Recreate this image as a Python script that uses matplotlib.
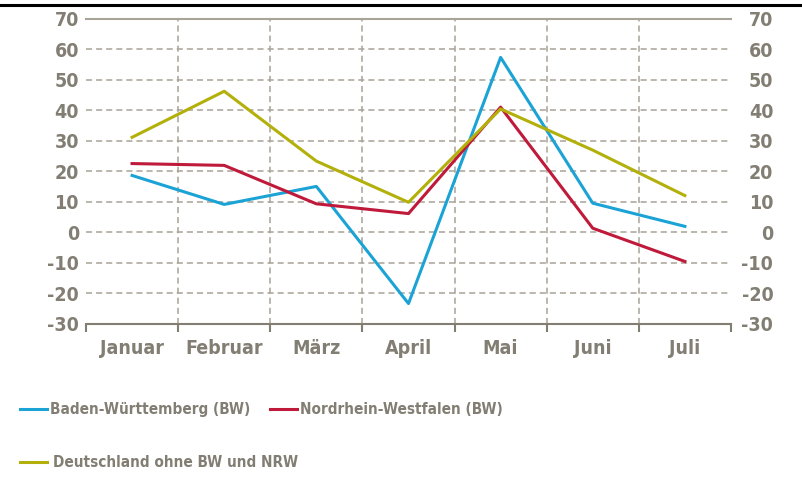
import matplotlib.pyplot as plt
from matplotlib.lines import Line2D
import numpy as np

months = ['Januar', 'Februar', 'März', 'April', 'Mai', 'Juni', 'Juli']
bw = [18.7, 9.2, 15.1, -23.3, 57.4, 9.6, 2.0]
nrw = [22.6, 22.0, 9.4, 6.2, 41.1, 1.4, -9.5]
de_rest = [31.2, 46.3, 23.4, 9.9, 40.5, 27.0, 12.1]
yticks = [-30, -20, -10, 0, 10, 20, 30, 40, 50, 60, 70]

grey = '#837e73'
gridc = '#a8a398'
plt.rcParams['font.family'] = ['DejaVu Sans']
plt.rcParams['font.stretch'] = 'condensed'
plt.rcParams['font.weight'] = 'bold'
plt.rcParams['axes.unicode_minus'] = False

fig = plt.figure(figsize=(8.03, 4.78), dpi=100)
ax = fig.add_axes([0.1071, 0.3222, 0.8032, 0.6381])

x = np.arange(len(months))
ax.plot(x, bw, color='#1ba3d6', lw=2.2, label='Baden-Württemberg (BW)')
ax.plot(x, nrw, color='#c01a3b', lw=2.2, label='Nordrhein-Westfalen (BW)')
ax.plot(x, de_rest, color='#b3b00b', lw=2.2, label='Deutschland ohne BW und NRW')

ax.set_xlim(-0.5, 6.5)
ax.set_ylim(-30, 70)
ax.set_yticks(yticks)
ax.set_xticks(x)
ax.set_xticklabels(months)
ax.set_xticks(np.arange(-0.5, 7, 1), minor=True)

for v in yticks[1:-1]:
    ax.axhline(v, color=gridc, lw=1.1, ls=(0, (4, 2.6)), zorder=0)
for b in np.arange(0.5, 6, 1):
    ax.axvline(b, color=gridc, lw=1.1, ls=(0, (4, 2.6)), zorder=0)

for s in ['left', 'right']:
    ax.spines[s].set_visible(False)
ax.spines['top'].set_color(gridc)
ax.spines['bottom'].set_color(grey)
ax.spines['top'].set_linewidth(1.5)
ax.spines['bottom'].set_linewidth(1.5)

ax.tick_params(axis='x', which='major', length=0, pad=11, labelsize=14, labelcolor=grey)
ax.tick_params(axis='x', which='minor', length=6, width=1.5, color=grey)
ax.tick_params(axis='y', length=0, labelsize=14, labelcolor=grey, pad=5)

# right-hand scale, labels right-aligned like the left one
ax2 = ax.twinx()
ax2.set_ylim(-30, 70)
ax2.set_yticks(yticks)
for s in ax2.spines.values():
    s.set_visible(False)
ax2.tick_params(axis='y', length=0, labelsize=14, labelcolor=grey, pad=30.5)
for lbl in ax2.get_yticklabels():
    lbl.set_horizontalalignment('right')

h, l = ax.get_legend_handles_labels()
fig.legend(h[:2], l[:2], loc='center left', bbox_to_anchor=(0.0249, 0.1423),
           ncol=2, frameon=False, fontsize=11, handlelength=1.76,
           handletextpad=0.2, columnspacing=1.3, labelcolor=grey,
           borderpad=0, borderaxespad=0)
fig.legend(h[2:], l[2:], loc='center left', bbox_to_anchor=(0.0249, 0.0314),
           frameon=False, fontsize=11, handlelength=1.76,
           handletextpad=0.4, labelcolor=grey, borderpad=0, borderaxespad=0)

fig.add_artist(Line2D([0.0, 1.0], [0.99, 0.99], color='black', lw=2.2,
                      transform=fig.transFigure))

plt.savefig('out.png', dpi=100)
